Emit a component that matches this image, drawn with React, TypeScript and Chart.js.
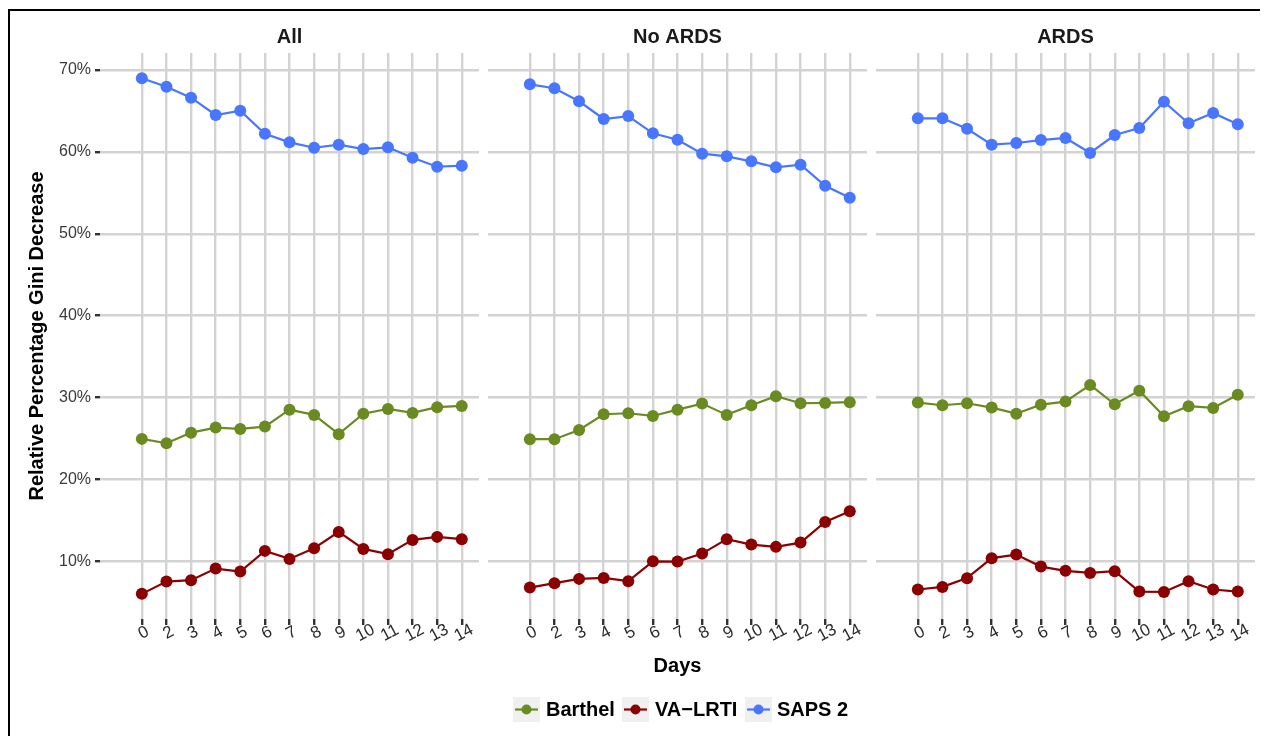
import React, { useEffect, useRef } from 'react';
import { Chart, registerables } from 'chart.js';
Chart.register(...registerables);

const DAYS = ['0', '2', '3', '4', '5', '6', '7', '8', '9', '10', '11', '12', '13', '14'];
const PANEL_TITLES = ['All', 'No ARDS', 'ARDS'];
const Y_TICKS = [10, 20, 30, 40, 50, 60, 70];
const SERIES_NAMES = ['Barthel', 'VA\u2212LRTI', 'SAPS 2'];
const SERIES_COLORS = ['#698B22', '#8B0000', '#4876FF'];

const allBarthel = [24.95, 24.42, 25.71, 26.33, 26.17, 26.45, 28.52, 27.88, 25.52, 28.03, 28.61, 28.12, 28.82, 28.97];
const allVALRTI = [6.02, 7.52, 7.69, 9.11, 8.74, 11.27, 10.29, 11.6, 13.59, 11.51, 10.87, 12.61, 12.98, 12.7];
const allSAPS = [68.99, 67.96, 66.62, 64.51, 65.03, 62.22, 61.17, 60.51, 60.88, 60.35, 60.56, 59.29, 58.19, 58.31];

const noArdsBarthel = [24.91, 24.91, 26.04, 27.96, 28.08, 27.75, 28.52, 29.26, 27.88, 29.06, 30.16, 29.3, 29.34, 29.43];
const noArdsVALRTI = [6.79, 7.33, 7.85, 7.97, 7.57, 10.0, 9.96, 10.94, 12.7, 12.04, 11.76, 12.28, 14.81, 16.12];
const noArdsSAPS = [68.25, 67.77, 66.18, 64.02, 64.38, 62.27, 61.49, 59.78, 59.46, 58.85, 58.12, 58.44, 55.87, 54.41];

const ardsBarthel = [29.38, 29.06, 29.3, 28.77, 28.03, 29.13, 29.5, 31.54, 29.18, 30.84, 27.72, 28.94, 28.73, 30.35];
const ardsVALRTI = [6.55, 6.87, 7.94, 10.38, 10.82, 9.35, 8.83, 8.58, 8.79, 6.3, 6.26, 7.57, 6.55, 6.3];
const ardsSAPS = [64.1, 64.1, 62.83, 60.88, 61.09, 61.45, 61.7, 59.87, 62.06, 62.92, 66.13, 63.49, 64.75, 63.37];

const PANEL_DATA = [
  [allBarthel, allVALRTI, allSAPS],
  [noArdsBarthel, noArdsVALRTI, noArdsSAPS],
  [ardsBarthel, ardsVALRTI, ardsSAPS],
];

const W = 1270;
const H = 736;
const PANEL_LEFT = [100, 488, 876];
const PANEL_RIGHT = [479, 867, 1255];
const PANEL_TOP = 53;
const PANEL_BOTTOM = 619;
const TICK_LEN = 6;
const FONT = '"Liberation Sans", Arial, sans-serif';
const GRID_COLOR = '#d3d3d3';

function makeDecor(idx: number) {
  return {
    id: 'decor' + idx,
    afterDraw(chart: any) {
      const ctx = chart.ctx;
      const area = chart.chartArea;
      const xs = chart.scales.x;
      ctx.save();
      // strip title
      ctx.fillStyle = '#1a1a1a';
      ctx.font = 'bold 20px ' + FONT;
      ctx.textAlign = 'center';
      ctx.textBaseline = 'alphabetic';
      ctx.fillText(PANEL_TITLES[idx], (area.left + area.right) / 2, 43);
      // x tick labels
      ctx.font = '17px ' + FONT;
      ctx.fillStyle = '#2b2b2b';
      ctx.textBaseline = 'middle';
      DAYS.forEach((d, k) => {
        const x = xs.getPixelForValue(k);
        ctx.save();
        ctx.translate(x + 2, 633);
        ctx.rotate((-28 * Math.PI) / 180);
        ctx.fillText(d, 0, 0);
        ctx.restore();
      });
      if (idx === 0) {
        ctx.save();
        ctx.font = 'bold 20px ' + FONT;
        ctx.fillStyle = '#000000';
        ctx.textAlign = 'center';
        ctx.textBaseline = 'alphabetic';
        ctx.translate(43, (PANEL_TOP + PANEL_BOTTOM) / 2);
        ctx.rotate(-Math.PI / 2);
        ctx.fillText('Relative Percentage Gini Decrease', 0, 0);
        ctx.restore();
      }
      if (idx === 1) {
        ctx.font = 'bold 20px ' + FONT;
        ctx.fillStyle = '#000000';
        ctx.textAlign = 'center';
        ctx.textBaseline = 'alphabetic';
        ctx.fillText('Days', (area.left + area.right) / 2, 672);
        // legend
        const keyX = [513, 622, 745];
        const textX = [546, 655, 777];
        ctx.textAlign = 'left';
        SERIES_NAMES.forEach((name, s) => {
          ctx.fillStyle = '#f0f0f0';
          ctx.fillRect(keyX[s], 697, 27, 25);
          ctx.strokeStyle = SERIES_COLORS[s];
          ctx.lineWidth = 2.2;
          ctx.beginPath();
          ctx.moveTo(keyX[s] + 2, 709.5);
          ctx.lineTo(keyX[s] + 25, 709.5);
          ctx.stroke();
          ctx.fillStyle = SERIES_COLORS[s];
          ctx.beginPath();
          ctx.arc(keyX[s] + 13.5, 709.5, 5, 0, Math.PI * 2);
          ctx.fill();
          ctx.fillStyle = '#000000';
          ctx.fillText(name, textX[s], 716);
        });
      }
      ctx.restore();
    },
  };
}

function Panel({ idx }: { idx: number }) {
  const ref = useRef<HTMLCanvasElement | null>(null);
  useEffect(() => {
    if (!ref.current) return;
    const datasets = PANEL_DATA[idx].map((vals, s) => ({
      label: SERIES_NAMES[s],
      data: vals.map((v, k) => ({ x: k, y: v })),
      borderColor: SERIES_COLORS[s],
      backgroundColor: SERIES_COLORS[s],
      borderWidth: 2.2,
      pointRadius: 6,
      pointBorderWidth: 0,
      pointBackgroundColor: SERIES_COLORS[s],
      tension: 0,
    }));
    const yWidth = idx === 0 ? 100 : 0;
    const chart = new Chart(ref.current, {
      type: 'line',
      data: { datasets },
      plugins: [makeDecor(idx)],
      options: {
        responsive: false,
        animation: false,
        devicePixelRatio: 1,
        layout: {
          padding: {
            left: PANEL_LEFT[idx] - yWidth,
            right: W - PANEL_RIGHT[idx],
            top: PANEL_TOP,
            bottom: H - PANEL_BOTTOM - TICK_LEN,
          },
        },
        plugins: { legend: { display: false }, tooltip: { enabled: false }, title: { display: false } },
        scales: {
          x: {
            type: 'linear',
            min: -1.7,
            max: 13.7,
            afterBuildTicks: (scale: any) => {
              scale.ticks = DAYS.map((_, k) => ({ value: k }));
            },
            afterFit: (scale: any) => {
              scale.height = TICK_LEN;
            },
            ticks: { display: false },
            border: { display: false },
            grid: {
              color: GRID_COLOR,
              lineWidth: 2.4,
              drawTicks: true,
              tickLength: TICK_LEN,
              tickColor: '#333333',
              tickWidth: 2.4,
            },
          },
          y: {
            type: 'linear',
            min: 2.95,
            max: 72.08,
            afterBuildTicks: (scale: any) => {
              scale.ticks = Y_TICKS.map((v) => ({ value: v }));
            },
            afterFit: (scale: any) => {
              scale.width = yWidth;
            },
            border: { display: false },
            ticks: {
              display: idx === 0,
              callback: (v: any) => v + '%',
              font: { family: FONT, size: 16 },
              color: '#3a3a3a',
              padding: 4,
            },
            grid: {
              color: GRID_COLOR,
              lineWidth: 2.4,
              drawTicks: idx === 0,
              tickLength: 5,
              tickColor: '#333333',
              tickWidth: 2.4,
            },
          },
        },
      } as any,
    });
    return () => chart.destroy();
  }, [idx]);
  return (
    <canvas
      ref={ref}
      width={W}
      height={H}
      style={{ position: 'absolute', left: 0, top: 0, width: W, height: H }}
    />
  );
}

export default function App() {
  useEffect(() => {
    document.body.style.margin = '0';
  }, []);
  return (
    <div style={{ position: 'relative', width: W, height: H, background: '#ffffff', overflow: 'hidden' }}>
      <div
        style={{
          position: 'absolute',
          left: 8,
          top: 9,
          width: 1252,
          height: 740,
          borderTop: '2px solid #000',
          borderLeft: '2px solid #000',
          boxSizing: 'border-box',
        }}
      />
      <Panel idx={0} />
      <Panel idx={1} />
      <Panel idx={2} />
    </div>
  );
}
